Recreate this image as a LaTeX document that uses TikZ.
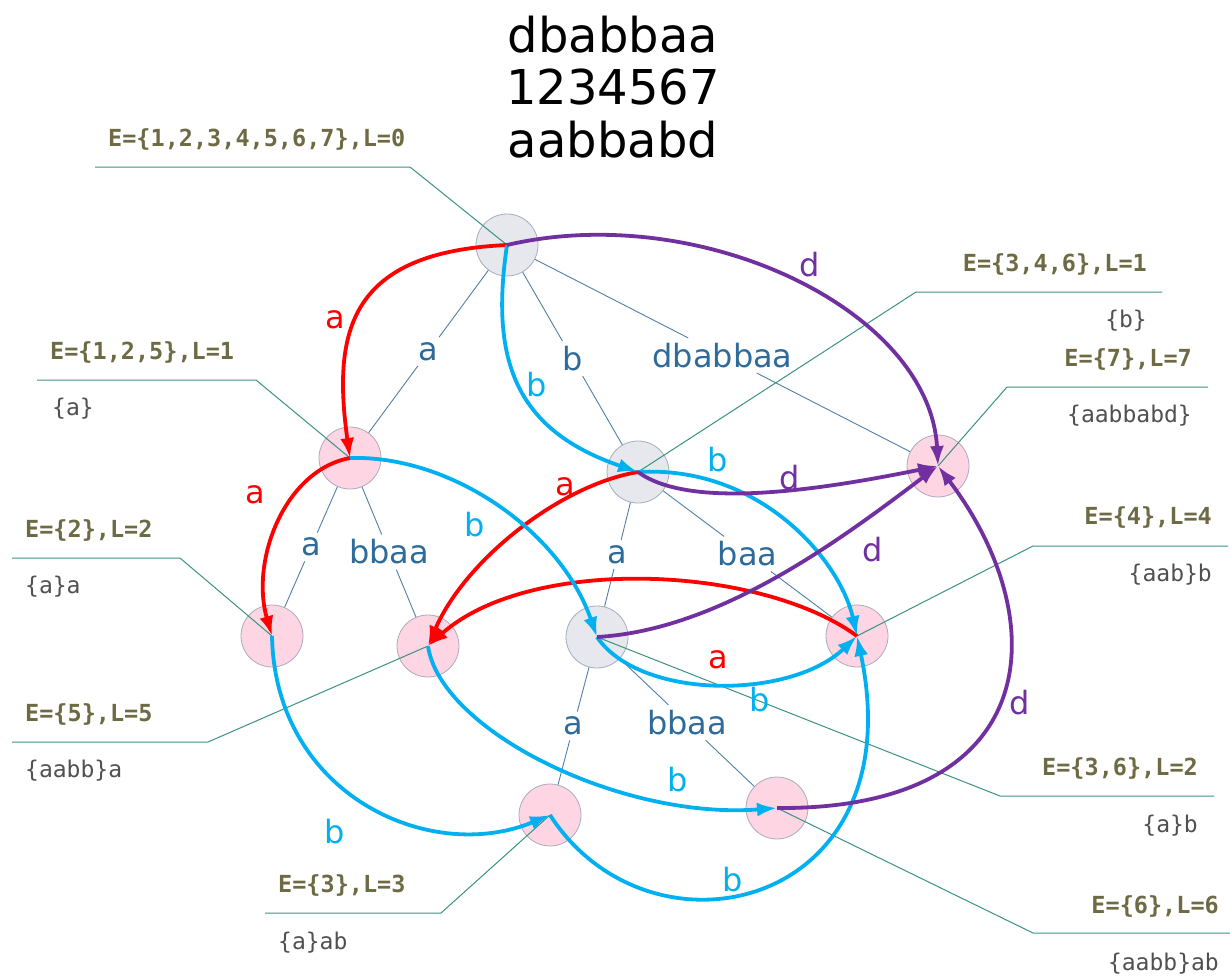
\documentclass[tikz,border=0pt]{standalone}
\usepackage{fontspec}
\setmainfont{DejaVu Sans}
\newfontfamily\monofnt{DejaVu Sans Mono}
\usetikzlibrary{arrows.meta}
\definecolor{treeblue}{HTML}{2F6B9A}
\definecolor{treeline}{HTML}{4F7FA8}
\definecolor{leadgreen}{HTML}{3A9280}
\definecolor{olivetxt}{HTML}{6E6A43}
\definecolor{subgray}{HTML}{505050}
\definecolor{ared}{HTML}{FF0000}
\definecolor{bcyan}{HTML}{00B0F0}
\definecolor{dpurple}{HTML}{7030A0}
\definecolor{grayfill}{HTML}{E6E8EE}
\definecolor{grayring}{HTML}{A3ADBF}
\definecolor{pinkfill}{HTML}{FDD5E3}
\definecolor{pinkring}{HTML}{ADAABD}
\begin{document}
\begin{tikzpicture}[x=1pt,y=-1pt,
  inner/.style={circle, minimum size=62pt, inner sep=0pt, line width=0.8pt, draw=grayring, fill=grayfill},
  leaf/.style={inner, draw=pinkring, fill=pinkfill},
  tedge/.style={draw=treeline, line width=0.9pt},
  tlab/.style={text=treeblue, font=\fontsize{32}{36}\selectfont, inner sep=5pt},
  lead/.style={draw=leadgreen, line width=1pt},
  etxt/.style={text=olivetxt, font=\monofnt\bfseries\fontsize{23.5}{26}\selectfont, inner sep=0pt},
  stxt/.style={text=subgray, font=\monofnt\fontsize{23}{26}\selectfont, inner sep=0pt},
  tr/.style={line width=3.8pt, -{Latex[length=20pt,width=14pt]}},
  trlab/.style={font=\fontsize{32}{36}\selectfont, inner sep=0pt}]
\useasboundingbox (0,0) rectangle (1230,977);
\node[align=center, font=\fontsize{48}{52.5}\selectfont] (title) at (613,87) {dbabbaa\\1234567\\aabbabd};
% states
\node[inner] (s0) at (507,245){};
\node[leaf] (s125) at (350,458){};
\node[inner] (s346) at (638,472){};
\node[leaf] (s7) at (938,466){};
\node[leaf] (s2) at (272,636){};
\node[leaf] (s5) at (428,646){};
\node[inner] (s36) at (597,637){};
\node[leaf] (s4) at (857,636){};
\node[leaf] (s3) at (550,815){};
\node[leaf] (s6) at (777,808){};
% tree
\path (s0) -- node[tlab] (t1){a} (s125);
\draw[tedge] (s0) -- (t1) -- (s125);
\path (s0) -- node[tlab] (t2){b} (s346);
\draw[tedge] (s0) -- (t2) -- (s346);
\path (s0) -- node[tlab] (t3){dbabbaa} (s7);
\draw[tedge] (s0) -- (t3) -- (s7);
\path (s125) -- node[tlab] (t4){a} (s2);
\draw[tedge] (s125) -- (t4) -- (s2);
\path (s125) -- node[tlab] (t5){bbaa} (s5);
\draw[tedge] (s125) -- (t5) -- (s5);
\path (s346) -- node[tlab] (t6){a} (s36);
\draw[tedge] (s346) -- (t6) -- (s36);
\path (s346) -- node[tlab] (t7){baa} (s4);
\draw[tedge] (s346) -- (t7) -- (s4);
\path (s36) -- node[tlab] (t8){a} (s3);
\draw[tedge] (s36) -- (t8) -- (s3);
\path (s36) -- node[tlab] (t9){bbaa} (s6);
\draw[tedge] (s36) -- (t9) -- (s6);
% leaders
\coordinate (k0) at (95,167);
\draw[lead] (s0.center) -- (410,167) -- (k0);
\node[etxt, anchor=base west] (e0) at (108,146) {E=\{1,2,3,4,5,6,7\},L=0};
\coordinate (k125) at (37,380);
\draw[lead] (s125.center) -- (256,380) -- (k125);
\node[etxt, anchor=base west] (e125) at (50,359) {E=\{1,2,5\},L=1};
\node[stxt, anchor=base west] (f125) at (52,415) {\{a\}};
\coordinate (k346) at (1162,292);
\draw[lead] (s346.center) -- (916,292) -- (k346);
\node[etxt, anchor=base east] (e346) at (1147,271) {E=\{3,4,6\},L=1};
\node[stxt, anchor=base east] (f346) at (1147,327) {\{b\}};
\coordinate (k7) at (1208,387);
\draw[lead] (s7.center) -- (1007,387) -- (k7);
\node[etxt, anchor=base east] (e7) at (1192,366) {E=\{7\},L=7};
\node[stxt, anchor=base east] (f7) at (1192,422) {\{aabbabd\}};
\coordinate (k2) at (12,558);
\draw[lead] (s2.center) -- (180,558) -- (k2);
\node[etxt, anchor=base west] (e2) at (25,537) {E=\{2\},L=2};
\node[stxt, anchor=base west] (f2) at (25,593) {\{a\}a};
\coordinate (k5) at (12,742);
\draw[lead] (s5.center) -- (208,742) -- (k5);
\node[etxt, anchor=base west] (e5) at (25,721) {E=\{5\},L=5};
\node[stxt, anchor=base west] (f5) at (25,777) {\{aabb\}a};
\coordinate (k4) at (1228,546);
\draw[lead] (s4.center) -- (1033,546) -- (k4);
\node[etxt, anchor=base east] (e4) at (1212,524) {E=\{4\},L=4};
\node[stxt, anchor=base east] (f4) at (1212,581) {\{aab\}b};
\coordinate (k36) at (1214,796);
\draw[lead] (s36.center) -- (1000,796) -- (k36);
\node[etxt, anchor=base east] (e36) at (1198,775) {E=\{3,6\},L=2};
\node[stxt, anchor=base east] (f36) at (1198,832) {\{a\}b};
\coordinate (k3) at (265,913);
\draw[lead] (s3.center) -- (441,913) -- (k3);
\node[etxt, anchor=base west] (e3) at (278,892) {E=\{3\},L=3};
\node[stxt, anchor=base west] (f3) at (278,949) {\{a\}ab};
\coordinate (k6) at (1230,933);
\draw[lead] (s6.center) -- (1033,933) -- (k6);
\node[etxt, anchor=base east] (e6) at (1219,913) {E=\{6\},L=6};
\node[stxt, anchor=base east] (f6) at (1219,970) {\{aabb\}ab};
% transitions a
\draw[tr, ared](s0.center) .. controls (350,252) and (332,330) .. (s125.center);
\draw[tr, ared](s125.center) .. controls (285,470) and (250,560) .. (s2.center);
\draw[tr, ared](s346.center) .. controls (560,485) and (465,560) .. (s5.center);
\draw[tr, ared](s4.center) .. controls (760,565) and (530,555) .. (s5.center);
% transitions b
\draw[tr, bcyan](s0.center) .. controls (490,360) and (515,430) .. (s346.center);
\draw[tr, bcyan](s125.center) .. controls (450,455) and (560,530) .. (s36.center);
\draw[tr, bcyan](s346.center) .. controls (760,465) and (840,560) .. (s4.center);
\draw[tr, bcyan](s36.center) .. controls (640,700) and (790,700) .. (s4.center);
\draw[tr, bcyan](s2.center) .. controls (275,795) and (430,865) .. (s3.center);
\draw[tr, bcyan](s5.center) .. controls (440,730) and (620,820) .. (s6.center);
\draw[tr, bcyan](s3.center) .. controls (650,970) and (915,910) .. (s4.center);
% transitions d
\draw[tr, dpurple](s0.center) .. controls (700,200) and (930,310) .. (s7.center);
\draw[tr, dpurple](s346.center) .. controls (690,510) and (820,490) .. (s7.center);
\draw[tr, dpurple](s36.center) .. controls (720,630) and (840,540) .. (s7.center);
\draw[tr, dpurple](s6.center) .. controls (1045,810) and (1055,620) .. (s7.center);
% transition labels
\node[trlab, ared] (ra1) at (335,320){a};
\node[trlab, ared] (ra2) at (255,495){a};
\node[trlab, ared] (ra3) at (565,487){a};
\node[trlab, ared] (ra4) at (718,660){a};
\node[trlab, bcyan] (cb1) at (537,385){b};
\node[trlab, bcyan] (cb2) at (475,525){b};
\node[trlab, bcyan] (cb3) at (718,460){b};
\node[trlab, bcyan] (cb4) at (760,700){b};
\node[trlab, bcyan] (cb5) at (335,832){b};
\node[trlab, bcyan] (cb6) at (678,780){b};
\node[trlab, bcyan] (cb7) at (733,880){b};
\node[trlab, dpurple] (pd1) at (810,265){d};
\node[trlab, dpurple] (pd2) at (790,478){d};
\node[trlab, dpurple] (pd3) at (873,550){d};
\node[trlab, dpurple] (pd4) at (1020,703){d};
\end{tikzpicture}
\end{document}
